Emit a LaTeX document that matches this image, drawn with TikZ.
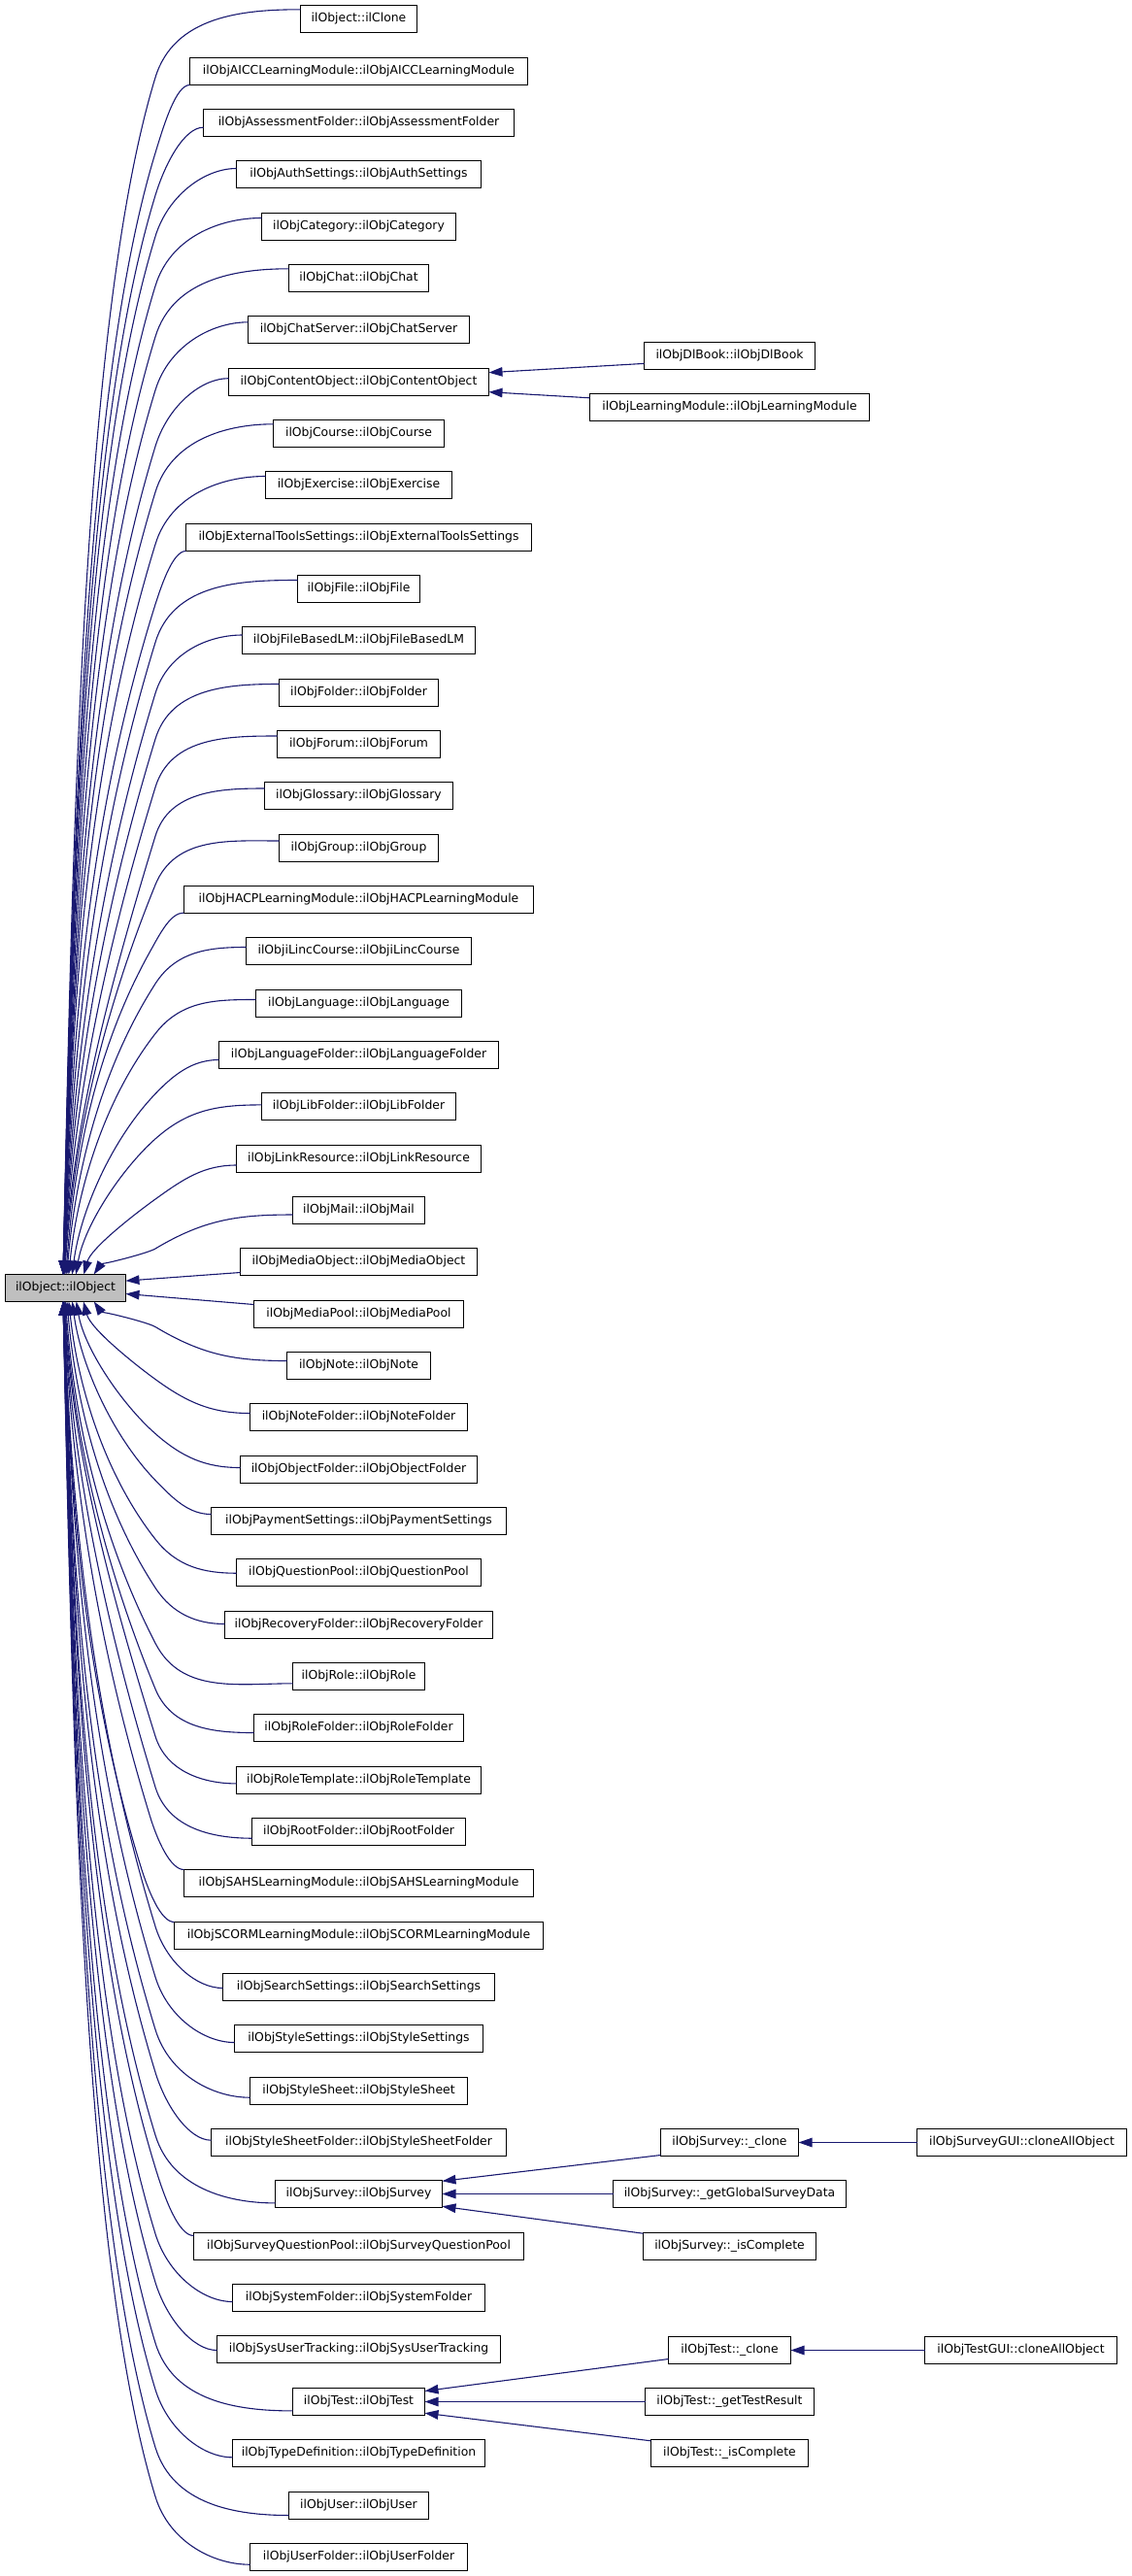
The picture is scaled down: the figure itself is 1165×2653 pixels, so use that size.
\documentclass[tikz,border=0pt]{standalone}
\usepackage{fontspec}
\setmainfont{DejaVu Sans}
\usetikzlibrary{arrows.meta,calc}
\definecolor{edgeblue}{RGB}{25,25,112}
\definecolor{rootgray}{RGB}{191,191,191}
\tikzset{
  box/.style={draw=black, line width=1pt, fill=white, minimum height=28pt,
    inner sep=0pt, outer sep=0pt, font=\fontsize{12.4}{14}\selectfont},
  edge/.style={draw=edgeblue, line width=1.1pt, {Triangle[length=14pt,width=9.5pt]}-},
}
\begin{document}
\begin{tikzpicture}[x=1pt,y=-1pt]
\useasboundingbox (0,0) rectangle (1165,2653);
% root
\node[box, fill=rootgray, minimum width=124pt] (root) at (67.5,1326.5) {ilObject::ilObject};
% left column
\foreach \i/\w/\txt in {
1/119/ilObject::ilClone,
2/348/ilObjAICCLearningModule::ilObjAICCLearningModule,
3/320/ilObjAssessmentFolder::ilObjAssessmentFolder,
4/251/ilObjAuthSettings::ilObjAuthSettings,
5/199/ilObjCategory::ilObjCategory,
6/144/ilObjChat::ilObjChat,
7/228/ilObjChatServer::ilObjChatServer,
8/268/ilObjContentObject::ilObjContentObject,
9/175/ilObjCourse::ilObjCourse,
10/191/ilObjExercise::ilObjExercise,
11/356/ilObjExternalToolsSettings::ilObjExternalToolsSettings,
12/125/ilObjFile::ilObjFile,
13/240/ilObjFileBasedLM::ilObjFileBasedLM,
14/163/ilObjFolder::ilObjFolder,
15/167/ilObjForum::ilObjForum,
16/193/ilObjGlossary::ilObjGlossary,
17/163/ilObjGroup::ilObjGroup,
18/359/ilObjHACPLearningModule::ilObjHACPLearningModule,
19/231/ilObjiLincCourse::ilObjiLincCourse,
20/211/ilObjLanguage::ilObjLanguage,
21/288/ilObjLanguageFolder::ilObjLanguageFolder,
22/199/ilObjLibFolder::ilObjLibFolder,
23/251/ilObjLinkResource::ilObjLinkResource,
24/135/ilObjMail::ilObjMail,
25/243/ilObjMediaObject::ilObjMediaObject,
26/215/ilObjMediaPool::ilObjMediaPool,
27/147/ilObjNote::ilObjNote,
28/224/ilObjNoteFolder::ilObjNoteFolder,
29/244/ilObjObjectFolder::ilObjObjectFolder,
30/303/ilObjPaymentSettings::ilObjPaymentSettings,
31/252/ilObjQuestionPool::ilObjQuestionPool,
32/276/ilObjRecoveryFolder::ilObjRecoveryFolder,
33/136/ilObjRole::ilObjRole,
34/215/ilObjRoleFolder::ilObjRoleFolder,
35/252/ilObjRoleTemplate::ilObjRoleTemplate,
36/219/ilObjRootFolder::ilObjRootFolder,
37/360/ilObjSAHSLearningModule::ilObjSAHSLearningModule,
38/380/ilObjSCORMLearningModule::ilObjSCORMLearningModule,
39/280/ilObjSearchSettings::ilObjSearchSettings,
40/255/ilObjStyleSettings::ilObjStyleSettings,
41/224/ilObjStyleSheet::ilObjStyleSheet,
42/303/ilObjStyleSheetFolder::ilObjStyleSheetFolder,
43/171/ilObjSurvey::ilObjSurvey,
44/340/ilObjSurveyQuestionPool::ilObjSurveyQuestionPool,
45/260/ilObjSystemFolder::ilObjSystemFolder,
46/292/ilObjSysUserTracking::ilObjSysUserTracking,
47/135/ilObjTest::ilObjTest,
48/260/ilObjTypeDefinition::ilObjTypeDefinition,
49/144/ilObjUser::ilObjUser,
50/223/ilObjUserFolder::ilObjUserFolder}{
  \pgfmathsetmacro\yc{round(19.7+(\i-1)*53.34-0.5)+0.5}
  \pgfmathsetmacro\ww{2*round(\w/2)}
  \node[box, minimum width=\ww pt] (n\i) at (369.5,\yc) {\txt};
}
% right-side nodes
\node[box, minimum width=176pt] (dlbook) at (751.5,366.5) {ilObjDlBook::ilObjDlBook};
\node[box, minimum width=288pt] (lm) at (751.5,419.5) {ilObjLearningModule::ilObjLearningModule};
\node[box, minimum width=142pt] (sclone) at (751.5,2206.5) {ilObjSurvey::\_clone};
\node[box, minimum width=240pt] (sgsd) at (751.5,2259.5) {ilObjSurvey::\_getGlobalSurveyData};
\node[box, minimum width=178pt] (sisc) at (751.5,2313.5) {ilObjSurvey::\_isComplete};
\node[box, minimum width=216pt] (sgui) at (1052.5,2206.5) {ilObjSurveyGUI::cloneAllObject};
\node[box, minimum width=126pt] (tclone) at (751.5,2420.5) {ilObjTest::\_clone};
\node[box, minimum width=174pt] (tres) at (751.5,2473.5) {ilObjTest::\_getTestResult};
\node[box, minimum width=162pt] (tisc) at (751.5,2526.5) {ilObjTest::\_isComplete};
\node[box, minimum width=198pt] (tgui) at (1051.5,2420.5) {ilObjTestGUI::cloneAllObject};
% curved edges to the root
\foreach \i/\w/\off in {
1/119/-9.7, 2/348/14, 3/320/4.7, 4/251/-6, 5/199/-9, 6/144/-9.7, 7/228/-7.7,
8/268/-3.8, 9/175/-9.7, 10/191/-9, 11/356/14, 12/125/-9, 13/240/-5.5,
14/163/-9, 15/167/-8.5, 16/193/-7.5, 17/163/-7.5, 18/359/13.5, 19/231/-4,
20/211/-4, 21/288/5, 22/199/-1.6, 23/251/6.5, 24/135/4.5,
27/147/-5, 28/224/-4, 29/244/-2, 30/303/-7, 31/252/0.7, 32/276/-1,
33/136/7.3, 34/215/5, 35/252/3.4, 36/219/6.7, 37/360/-14, 38/380/-14,
39/280/1, 40/255/4, 41/224/6.7, 42/303/-2.3, 43/171/9.4, 44/340/-11,
45/260/4, 46/292/1, 47/135/9.4, 48/260/4.3, 49/144/10, 50/223/7.7}{
  \pgfmathsetmacro\yc{round(19.7+(\i-1)*53.34-0.5)+0.5}
  \pgfmathsetmacro\ww{2*round(\w/2)}
  \pgfmathsetmacro\ex{369.5-\ww/2}
  \pgfmathsetmacro\ey{\yc+\off}
  \ifnum\i<26
    \def\anc{north west}\def\up{1}\def\sy{1312.5}
  \else
    \def\anc{south west}\def\up{-1}\def\sy{1340.5}
  \fi
  \pgfmathsetmacro\gg{abs(\sy-\ey)}
  \pgfmathsetmacro\sx{65+32*exp(-(\gg-60)/130)}
  \pgfmathsetmacro\hh{35+35*min(1,max(0,(\gg-300)/500))}
  \pgfmathsetmacro\wx{min(160,\ex-35)}
  \pgfmathsetmacro\wy{\ey+\up*\hh}
  \pgfmathsetmacro\ang{25+48*min(1,\gg/500)}
  \pgfmathsetmacro\dd{0.4*veclen(\ex-\wx,\ey-\wy)}
  \pgfmathsetmacro\ctx{\wx+\dd*cos(\ang)}
  \pgfmathsetmacro\cty{\wy-\up*\dd*sin(\ang)}
  \pgfmathsetmacro\cfx{\ex-0.4*(\ex-\wx)}
  \pgfmathsetmacro\Lt{min(0.35*abs(\sy-\wy),0.8*(\wx-\sx)/cos(\ang))}
  \pgfmathsetmacro\cwx{\wx-\Lt*cos(\ang)}
  \pgfmathsetmacro\cwy{\wy+\up*\Lt*sin(\ang)}
  \pgfmathsetmacro\cox{\sx+0.1*(\wx-\sx)}
  \pgfmathsetmacro\coy{\sy-\up*0.35*abs(\sy-\wy)}
  \draw[edge] ($(root.\anc)+(\sx-5.5,0)$) .. controls (\cox,\coy) and (\cwx,\cwy) ..
    (\wx,\wy) .. controls (\ctx,\cty) and (\cfx,\ey) .. ($(n\i.west)+(0,\off)$);
}
% near-straight edges to the root
\draw[edge] ($(root.east)+(0,-7.4)$) -- ($(n25.west)+(0,11)$);
\draw[edge] ($(root.east)+(0,6)$) -- ($(n26.west)+(0,-10)$);
% right-side edges
\draw[edge] ($(n8.east)+(0,-9.8)$) -- ($(dlbook.west)+(0,7.9)$);
\draw[edge] ($(n8.east)+(0,10.2)$) -- ($(lm.west)+(0,-9.7)$);
\draw[edge] ($(n43.east)+(0,-13.2)$) -- ($(sclone.west)+(0,13)$);
\draw[edge] (n43.east) -- (sgsd.west);
\draw[edge] ($(n43.east)+(0,12.8)$) -- ($(sisc.west)+(0,-13.3)$);
\draw[edge] (sclone.east) -- (sgui.west);
\draw[edge] ($(n47.east)+(0,-11)$) -- ($(tclone.west)+(0,9)$);
\draw[edge] (n47.east) -- (tres.west);
\draw[edge] ($(n47.east)+(0,11.7)$) -- ($(tisc.west)+(0,-12.7)$);
\draw[edge] (tclone.east) -- (tgui.west);
\end{tikzpicture}
\end{document}
